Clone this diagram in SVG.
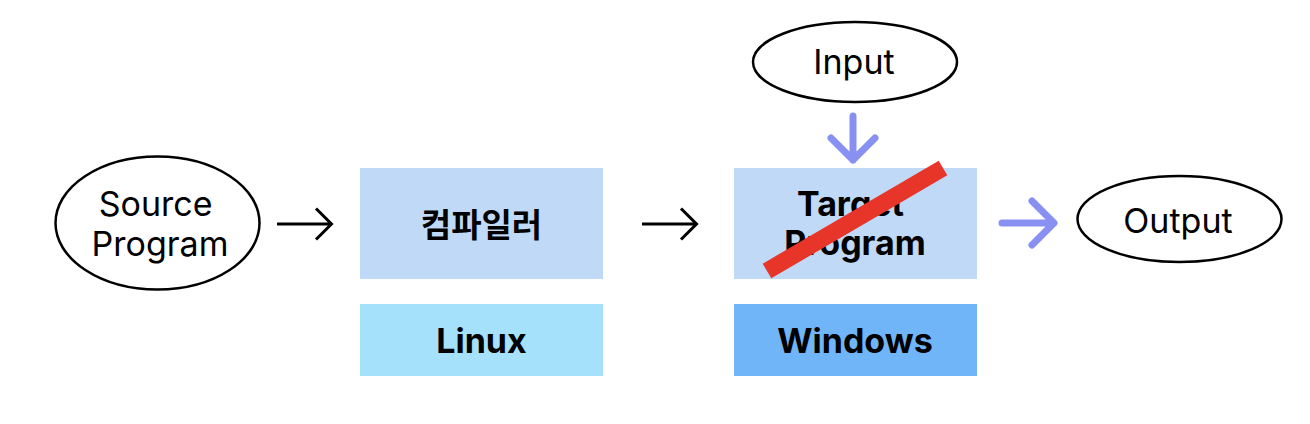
<svg xmlns="http://www.w3.org/2000/svg" width="1310" height="424" viewBox="0 0 1310 424">
<style>
.ell{fill:#fff;stroke:#000;stroke-width:2.5}
.t{font-family:Inter,"Noto Sans","Noto Sans CJK KR",sans-serif;font-size:34px;fill:#000;text-anchor:middle}
.b{font-weight:700}
.kr{font-family:"Noto Sans CJK KR",sans-serif;font-size:33px}
.blk{fill:none;stroke:#000;stroke-width:3;stroke-linecap:butt}
.blu{fill:none;stroke:#8891F1;stroke-width:7;stroke-linecap:round;stroke-linejoin:round}
</style>
<rect width="1310" height="424" fill="#fff"/>
<g id="source">
<ellipse class="ell" cx="157.5" cy="223" rx="102" ry="66.5"/>
<text class="t" x="155.7" y="215.5">Source</text>
<text class="t" x="160" y="256">Program</text>
</g>
<g id="compiler">
<rect x="360" y="168" width="243" height="111" fill="#BFD9F6"/>
<text class="t b kr" x="481.5" y="237">컴파일러</text>
</g>
<g id="linux">
<rect x="360" y="304" width="243" height="72" fill="#A5E1FB"/>
<text class="t b" x="481.5" y="353">Linux</text>
</g>
<g id="target">
<rect x="734" y="168" width="243" height="111" fill="#BFD9F6"/>
<text class="t b" x="850.5" y="216">Target</text>
<text class="t b" x="855" y="255">Program</text>
<line x1="767" y1="271" x2="943" y2="168" stroke="#E8352A" stroke-width="17"/>
</g>
<g id="windows">
<rect x="734" y="304" width="243" height="72" fill="#70B5F8"/>
<text class="t b" x="855" y="353">Windows</text>
</g>
<g id="input">
<ellipse class="ell" cx="855" cy="62" rx="102" ry="40"/>
<text class="t" x="854" y="73.5">Input</text>
</g>
<g id="output">
<ellipse class="ell" cx="1179.5" cy="219" rx="102" ry="43"/>
<text class="t" x="1178" y="232.5">Output</text>
</g>
<g id="connectors">
<path class="blk" d="M277 224H331M316 208.5L331.5 224L316 239.5"/>
<path class="blk" d="M642 224H696M681 208.5L696.5 224L681 239.5"/>
<path class="blu" d="M853 116V160M831 138L853 160L875 138"/>
<path class="blu" d="M1002 223H1053M1032 201L1054 223L1032 245"/>
</g>
</svg>
